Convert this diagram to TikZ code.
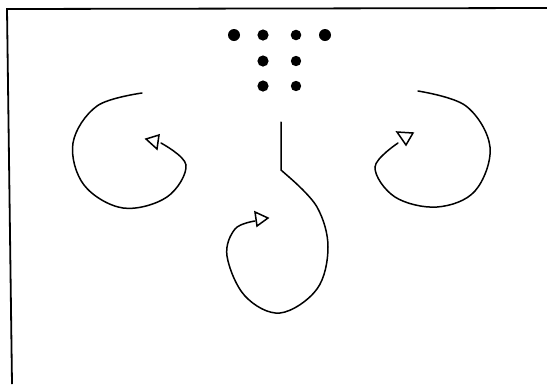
\documentclass[tikz,border=0pt]{standalone}
\usetikzlibrary{calc}

\begin{document}
\begin{tikzpicture}[
  x=1pt,y=-1pt,
  curl/.style={line width=1.5pt,line cap=round},
  head/.style={draw,fill=white,line width=1.5pt,line join=miter},
  frame/.style={line width=1.8pt},
  dot/.style={fill=black},
]
\useasboundingbox (0,0) rectangle (547,384);

% frame (top and left edges only)
\draw[frame] (547,8) -- (7,9) -- (12,384);

% dots
\foreach \x/\r in {234/6,263/5.6,296/5.3,325/6}
  \fill[dot] (\x,35) circle (\r);
\foreach \y in {61,86}
  \foreach \x/\r in {263/5.6,296/5.2}
    \fill[dot] (\x,\y) circle (\r);

% left curl
\draw[curl] plot[smooth,tension=0.6] coordinates {
  (142,93) (97,106) (73,143) (84,185) (123,208) (167,197) (186,165) (161,143)};
\draw[head] (146,139) -- (159,135) -- (157,149) -- cycle;

% centre curl
\draw[curl] (281,122) -- (281,170) -- (289,177);
\draw[curl] plot[smooth,tension=0.6] coordinates {
  (289,177) (317,207) (328,247) (317,289) (280,313) (245,296) (227,256)
  (235,229) (255,221)};
\draw[head] (255,212) -- (268,218) -- (257,226) -- cycle;

% right curl
\draw[curl] plot[smooth,tension=0.6] coordinates {
  (418,91) (466,106) (490,147) (475,191) (437,207) (395,197) (375,167) (398,143)};
\draw[head] (397,132) -- (413,133) -- (406,145) -- cycle;
\end{tikzpicture}
\end{document}
